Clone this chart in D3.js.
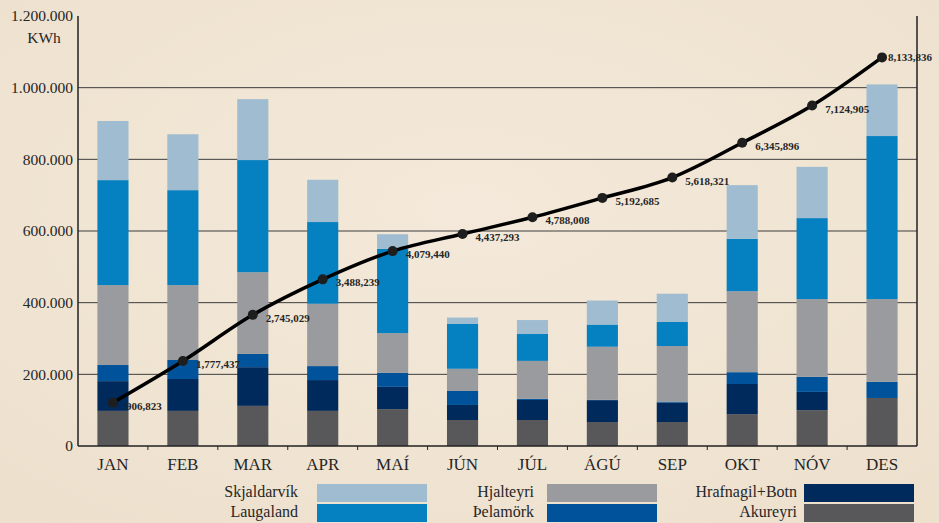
<!DOCTYPE html>
<html>
<head>
<meta charset="utf-8">
<script src="https://cdn.jsdelivr.net/npm/d3@7"></script>
<style>
  html, body { margin: 0; padding: 0; background: #f2e6d5; }
  svg { display: block; font-family: "Liberation Serif", "DejaVu Serif", serif; }
</style>
</head>
<body>
<div id="chart"></div>
<script>
// monthly kWh per pumping station
var months = ["JAN", "FEB", "MAR", "APR", "MAÍ", "JÚN", "JÚL", "ÁGÚ", "SEP", "OKT", "NÓV", "DES"];
var akureyri    = [98000, 98000, 112000, 98000, 103000, 72500, 72500, 67000, 67000, 89000, 100000, 134000];
var hrafnagil   = [83000, 89000, 108000, 86000, 62000, 42000, 56000, 61000, 54000, 84000, 51000, 0];
var thelamork   = [45000, 53000, 37000, 39000, 39000, 39000, 3000, 1000, 3000, 33000, 42000, 45000];
var hjalteyri   = [223000, 209000, 228000, 174000, 111000, 62000, 106000, 148000, 155000, 226000, 217000, 231000];
var laugaland   = [293000, 265000, 313000, 228000, 235000, 125000, 75000, 62000, 67000, 146000, 226000, 455000];
var skjaldarvik = [165000, 156000, 170000, 118000, 41000, 18000, 39000, 67000, 79000, 150000, 143000, 144000];
// cumulative total (line)
var cumulative = [906823, 1777437, 2745029, 3488239, 4079440, 4437293, 4788008, 5192685, 5618321, 6345896, 7124905, 8133836];
var yTicks = [0, 200000, 400000, 600000, 800000, 1000000, 1200000];

var series = [
    { name: "Akureyri", values: akureyri, color: "#58585a" },
    { name: "Hrafnagil+Botn", values: hrafnagil, color: "#002a5c" },
    { name: "Þelamörk", values: thelamork, color: "#00539b" },
    { name: "Hjalteyri", values: hjalteyri, color: "#9a9b9f" },
    { name: "Laugaland", values: laugaland, color: "#0580c0" },
    { name: "Skjaldarvík", values: skjaldarvik, color: "#9fbcd0" }
];

var W = 939, H = 523;
var plotLeft = 78, plotRight = 917, plotTop = 16, plotBottom = 446;

var svg = d3.select("#chart").append("svg")
    .attr("width", W)
    .attr("height", H);

// parchment-ish background
var defs = svg.append("defs");
var grad = defs.append("radialGradient").attr("id", "bg").attr("cx", "50%").attr("cy", "40%").attr("r", "75%");
grad.append("stop").attr("offset", "0%").attr("stop-color", "#f4e9da");
grad.append("stop").attr("offset", "100%").attr("stop-color", "#ede0cd");
svg.append("rect").attr("width", W).attr("height", H).attr("fill", "url(#bg)");

var x = d3.scaleBand()
    .domain(months)
    .range([plotLeft, plotRight])
    .paddingInner(0.555)
    .paddingOuter(0.2775);

var y = d3.scaleLinear().domain([0, 1200000]).range([plotBottom, plotTop]);
var yCum = d3.scaleLinear().domain([0, 9000000]).range([plotBottom, plotTop]);

var isFmt = d3.formatLocale({ decimal: ",", thousands: ".", grouping: [3], currency: ["", ""] }).format(",");
var enFmt = d3.format(",");

// gridlines
svg.append("g").selectAll("line")
    .data(yTicks.filter(d => d > 0 && d < 1200000))
    .join("line")
    .attr("x1", plotLeft).attr("x2", plotRight)
    .attr("y1", d => y(d)).attr("y2", d => y(d))
    .attr("stroke", "#3d3d3d")
    .attr("stroke-width", 1);

// y axis labels
svg.append("g")
    .attr("transform", "translate(" + plotLeft + ",0)")
    .call(d3.axisLeft(y).tickValues(yTicks).tickSize(0).tickPadding(5).tickFormat(isFmt))
    .call(g => g.select(".domain").remove())
    .selectAll("text")
    .style("font-family", "Liberation Serif, serif")
    .style("font-size", "15.5px")
    .attr("fill", "#262626");

svg.append("text")
    .attr("x", 44).attr("y", 43)
    .attr("text-anchor", "middle")
    .style("font-size", "15.5px")
    .attr("fill", "#262626")
    .text("KWh");

// stacked bars
var stackRows = months.map(function(m, i) {
    var row = { month: m };
    series.forEach(s => row[s.name] = s.values[i]);
    return row;
});
var stacked = d3.stack().keys(series.map(s => s.name))(stackRows);

svg.append("g").selectAll("g")
    .data(stacked)
    .join("g")
    .attr("fill", (d, i) => series[i].color)
    .selectAll("rect")
    .data(d => d)
    .join("rect")
    .attr("x", d => x(d.data.month))
    .attr("width", x.bandwidth())
    .attr("y", d => y(d[1]))
    .attr("height", d => y(d[0]) - y(d[1]));

// axis frame
svg.append("line").attr("x1", plotLeft).attr("x2", plotLeft).attr("y1", plotTop).attr("y2", plotBottom)
    .attr("stroke", "#222").attr("stroke-width", 1.5);
svg.append("line").attr("x1", plotRight).attr("x2", plotRight).attr("y1", plotTop).attr("y2", plotBottom)
    .attr("stroke", "#222").attr("stroke-width", 1.5);
svg.append("line").attr("x1", plotLeft).attr("x2", plotRight).attr("y1", plotBottom).attr("y2", plotBottom)
    .attr("stroke", "#222").attr("stroke-width", 1.5);

// x axis ticks between months
svg.append("g").selectAll("line")
    .data(months.slice(1))
    .join("line")
    .attr("x1", d => x(d) - x.step() * x.paddingInner() / 2)
    .attr("x2", d => x(d) - x.step() * x.paddingInner() / 2)
    .attr("y1", plotBottom).attr("y2", plotBottom + 4)
    .attr("stroke", "#222");

svg.append("g").selectAll("text")
    .data(months)
    .join("text")
    .attr("x", d => x(d) + x.bandwidth() / 2)
    .attr("y", 470)
    .attr("text-anchor", "middle")
    .style("font-size", "17px")
    .attr("fill", "#262626")
    .text(d => d);

// cumulative line
var cx = (d, i) => x(months[i]) + x.bandwidth() / 2;
var line = d3.line()
    .x(cx)
    .y(d => yCum(d))
    .curve(d3.curveMonotoneX);

svg.append("path")
    .datum(cumulative)
    .attr("d", line)
    .attr("fill", "none")
    .attr("stroke", "#000")
    .attr("stroke-width", 3.5);

svg.append("g").selectAll("circle")
    .data(cumulative)
    .join("circle")
    .attr("cx", cx)
    .attr("cy", d => yCum(d))
    .attr("r", 5)
    .attr("fill", "#1e1e1e");

svg.append("g").selectAll("text")
    .data(cumulative)
    .join("text")
    .attr("x", (d, i) => cx(d, i) + (i == 11 ? 6 : 13))
    .attr("y", (d, i) => yCum(d) + (i == 11 ? 4 : 7))
    .style("font-size", "11px")
    .style("font-weight", "bold")
    .attr("fill", "#262626")
    .text(d => enFmt(d));

// legend: three columns, two rows
var legendOrder = [
    { name: "Skjaldarvík", col: 0, row: 0 },
    { name: "Laugaland", col: 0, row: 1 },
    { name: "Hjalteyri", col: 1, row: 0 },
    { name: "Þelamörk", col: 1, row: 1 },
    { name: "Hrafnagil+Botn", col: 2, row: 0 },
    { name: "Akureyri", col: 2, row: 1 }
];
var swatchX = [317, 547, 804];
var labelEnd = [298, 534, 797];
var colorOf = {};
series.forEach(s => colorOf[s.name] = s.color);

var legend = svg.append("g");
legend.selectAll("rect")
    .data(legendOrder)
    .join("rect")
    .attr("x", d => swatchX[d.col])
    .attr("y", d => 484 + d.row * 20)
    .attr("width", 110)
    .attr("height", 18)
    .attr("fill", d => colorOf[d.name]);

legend.selectAll("text")
    .data(legendOrder)
    .join("text")
    .attr("x", d => labelEnd[d.col])
    .attr("y", d => 497 + d.row * 20)
    .attr("text-anchor", "end")
    .style("font-size", "16px")
    .attr("fill", "#262626")
    .text(d => d.name);
</script>
</body>
</html>
